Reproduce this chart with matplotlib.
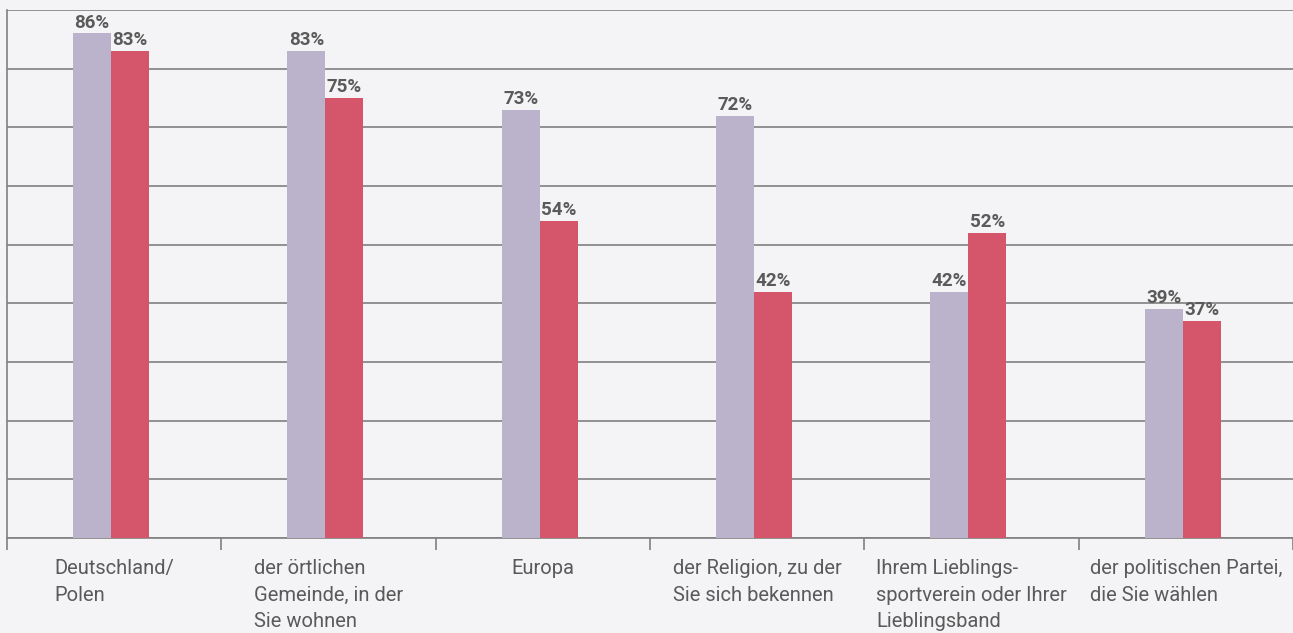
import matplotlib.pyplot as plt
import numpy as np

# Daten
kategorien = ["Deutschland/\nPolen", "der örtlichen\nGemeinde, in der\nSie wohnen", "Europa",
              "der Religion, zu der\nSie sich bekennen", "Ihrem Lieblings-\nsportverein oder Ihrer\nLieblingsband",
              "der politischen Partei,\ndie Sie wählen"]
serie1 = [86, 83, 73, 72, 42, 39]   # lila
serie2 = [83, 75, 54, 42, 52, 37]   # rot

bg = "#F4F4F6"; c1 = "#BBB3CC"; c2 = "#D5566B"; grau = "#808080"; txt = "#5A5A5A"
plt.rcParams['font.family'] = ['Roboto', 'DejaVu Sans']

fig = plt.figure(figsize=(12.93, 6.33), dpi=100, facecolor=bg)
ax = fig.add_axes([7/1293, 95/633, 1 - 7/1293, 528/633], facecolor=bg)

x = np.arange(len(kategorien)) - 0.015; w = 0.177
ax.bar(x - w/2, serie1, w, color=c1, zorder=3)
ax.bar(x + w/2, serie2, w, color=c2, zorder=3)
for xi, v in zip(x - w/2, serie1):
    ax.text(xi, v + 0.3, f"{v}%", ha="center", va="bottom", fontsize=13.5, fontweight="bold", color=txt, zorder=4)
for xi, v in zip(x + w/2, serie2):
    ax.text(xi, v + 0.3, f"{v}%", ha="center", va="bottom", fontsize=13.5, fontweight="bold", color=txt, zorder=4)

ax.set_xlim(-0.5, len(kategorien) - 0.5); ax.set_ylim(0, 90)
ax.set_yticks(np.arange(0, 91, 10)); ax.set_yticklabels([])
ax.tick_params(axis="y", length=0)
ax.grid(axis="y", color=grau, linewidth=1.2, zorder=0)
ax.set_xticks(np.arange(-0.5, len(kategorien), 1)); ax.set_xticklabels([])
ax.tick_params(axis="x", direction="out", length=8.5, width=1.2, color=grau)
for s in ["top", "right"]:
    ax.spines[s].set_visible(False)
for s in ["left", "bottom"]:
    ax.spines[s].set_color(grau); ax.spines[s].set_linewidth(1.2)
for xi, k in zip(np.arange(len(kategorien)), kategorien):
    ax.text(xi, -3.6, k, ha="center", va="top", multialignment="left", fontsize=14.5, color=txt, linespacing=1.5)

fig.savefig("out.png", dpi=100, facecolor=bg)
